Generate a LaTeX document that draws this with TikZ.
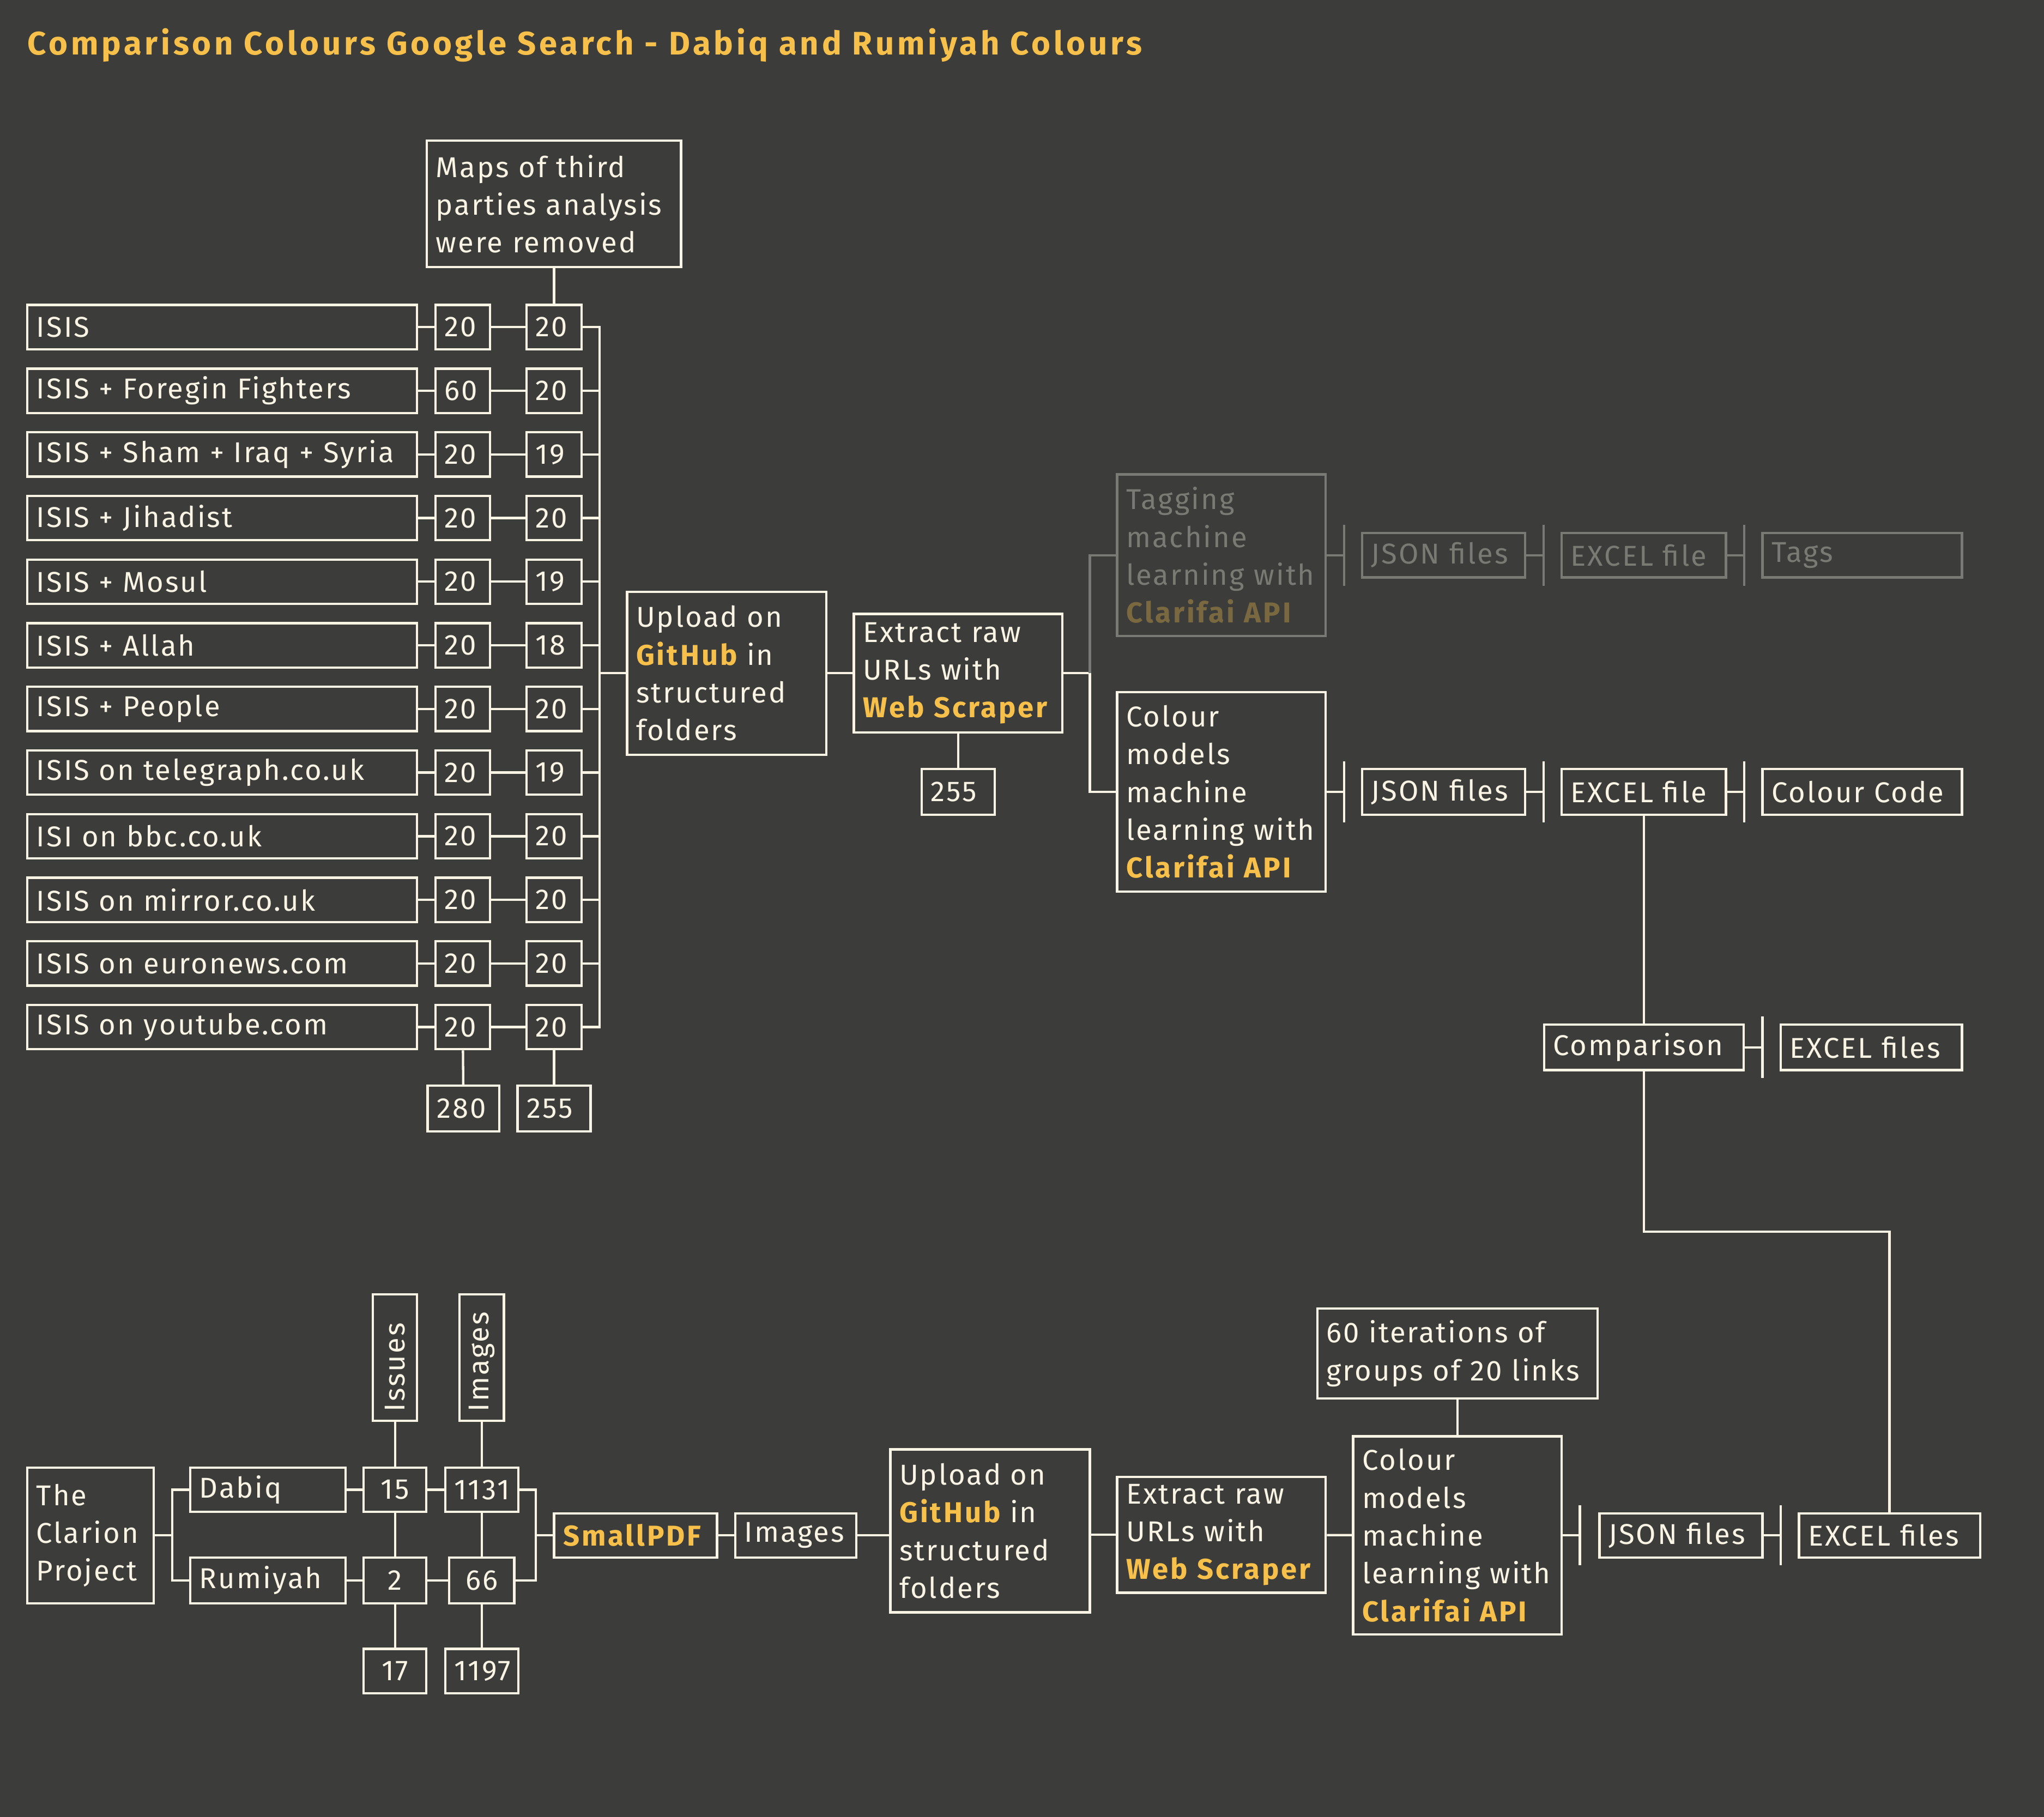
\documentclass[tikz,border=0pt]{standalone}
\usepackage{fontspec}
\setmainfont{Fira Sans}[LetterSpace=5.6,BoldFeatures={LetterSpace=7.5}]
\newfontfamily\titlefont{Fira Sans}[LetterSpace=9.6]
\definecolor{bg}{RGB}{60,60,58}
\definecolor{cream}{RGB}{250,244,228}
\definecolor{gold}{RGB}{247,192,74}
\definecolor{dim}{RGB}{122,122,116}
\definecolor{dimgold}{RGB}{122,104,64}
\newcommand{\hilite}[1]{{\bfseries\color{gold}#1}}
\newcommand{\hilitedim}[1]{{\bfseries\color{dimgold}#1}}
\begin{document}
\begin{tikzpicture}[x=1pt,y=-1pt,
	box/.style={draw=cream,line width=1.8pt,text=cream,inner xsep=7pt,inner ysep=0pt,align=left,font=\fontsize{22}{29}\selectfont},
	dimbox/.style={box,draw=dim,text=dim},
	link/.style={draw=cream,line width=1.8pt},
	dimlink/.style={link,draw=dim}]
	\fill[bg] (0,0) rectangle (1568,1394);
	\useasboundingbox (0,0) rectangle (1568,1394);
	
	\node[anchor=base west,inner sep=0,text=gold,font=\fontsize{25}{30}\selectfont\titlefont\bfseries] (title) at (21,42) {Comparison Colours Google Search - Dabiq and Rumiyah Colours};
	
	% google search
	\node[box,text width=181pt,minimum height=97pt] (maps) at (425,156.5) {Maps of third\\parties~analysis\\were removed};
	\coordinate (bus) at (460,516.5);
	\foreach \lab/\p/\q [count=\i] in {ISIS/20/20,ISIS + Foregin Fighters/60/20,ISIS + Sham + Iraq + Syria/20/19,ISIS + Jihadist/20/20,ISIS + Mosul/20/19,ISIS + Allah/20/18,ISIS + People/20/20,ISIS on telegraph.co.uk/20/19,ISI on bbc.co.uk/20/20,ISIS on mirror.co.uk/20/20,ISIS on euronews.com/20/20,ISIS on youtube.com/20/20}{
		\node[box,text width=285pt,minimum height=34pt] (r\i) at (170.5,{251+(\i-1)*48.82}) {\lab};
		\node[box,text width=28pt,minimum height=34pt] (a\i) at (355,{251+(\i-1)*48.82}) {\p};
		\node[box,text width=28pt,minimum height=34pt] (b\i) at (425,{251+(\i-1)*48.82}) {\q};
		\draw[link] (r\i) -- (a\i);
		\draw[link] (a\i) -- (b\i);
		\draw[link] (b\i.east) -| (bus);
	}
	\draw[link] (maps) -- (b1);
	\node[box,text width=41pt,minimum height=35pt] (tot1) at (355.5,850.5) {280};
	\node[box,text width=42pt,minimum height=35pt] (tot2) at (425,850.5) {255};
	\draw[link] (a12) -- (tot1);
	\draw[link] (b12) -- (tot2);
	
	\node[box,text width=139pt,minimum height=125pt] (up1) at (557.5,516.5) {Upload on\\\hilite{GitHub} in\\structured\\folders};
	\draw[link] (bus) -- (up1);
	\node[box,text width=146pt,minimum height=91pt] (ex1) at (735,516.5) {Extract raw\\URLs with\\\hilite{Web~Scraper}};
	\draw[link] (up1) -- (ex1);
	\node[box,text width=42pt,minimum height=35pt] (n255) at (735,607.5) {255};
	\draw[link] (ex1) -- (n255);
	
	\node[dimbox,text width=146pt,minimum height=124pt] (tag) at (937,426) {Tagging\\machine\\learning~with\\\hilitedim{Clarifai~API}};
	\node[dimbox,text width=111pt,minimum height=34pt] (json1) at (1107.5,426) {JSON files};
	\node[dimbox,text width=112pt,minimum height=34pt] (xls1) at (1261,426) {EXCEL file};
	\node[dimbox,text width=139pt,minimum height=34pt] (tags) at (1428.5,426) {Tags};
	
	\node[box,text width=146pt,minimum height=153pt] (cm1) at (937,607.5) {Colour\\models\\machine\\learning~with\\\hilite{Clarifai~API}};
	\node[box,text width=111pt,minimum height=35pt] (json2) at (1107.5,607.5) {JSON files};
	\node[box,text width=112pt,minimum height=35pt] (xls2) at (1261,607.5) {EXCEL file};
	\node[box,text width=139pt,minimum height=35pt] (code) at (1428.5,607.5) {Colour Code};
	
	\coordinate (split) at (836,516.5);
	\draw[link] (ex1) -- (split);
	\draw[dimlink] (split) |- (tag);
	\draw[link] (split) |- (cm1);
	
	\draw[dimlink] (tag) -- (1031,426);
	\draw[dimlink] (json1) -- (1184,426);
	\draw[dimlink] (xls1) -- (1338,426);
	\foreach \x in {1031,1184,1338}
		\draw[dimlink] (\x,402.5) -- (\x,449.5);
	\draw[link] (cm1) -- (1031,607.5);
	\draw[link] (json2) -- (1184,607.5);
	\draw[link] (xls2) -- (1338,607.5);
	\foreach \x in {1031,1184,1338}
		\draw[link] (\x,584) -- (\x,631);
	
	\node[box,text width=139pt,minimum height=35pt] (comp) at (1261,803.5) {Comparison};
	\node[box,text width=125pt,minimum height=35pt] (xls3) at (1435.5,803.5) {EXCEL files};
	\draw[link] (xls2) -- (comp);
	\draw[link] (comp) -- (1352,803.5);
	\draw[link] (1352,780) -- (1352,827);
	
	% dabiq and rumiyah
	\node[box,text width=83pt,minimum height=104pt] (clar) at (69.5,1178) {The\\Clarion\\Project};
	\node[box,text width=105pt,minimum height=34pt] (dab) at (205.5,1143) {Dabiq};
	\node[box,text width=105pt,minimum height=35pt] (rum) at (205.5,1212.5) {Rumiyah};
	\coordinate (cj) at (132,1178);
	\draw[link] (clar) -- (cj);
	\draw[link] (cj) |- (dab);
	\draw[link] (cj) |- (rum);
	
	\node[box,rotate=90,text width=83pt,minimum height=34pt] (iss) at (303,1041.5) {Issues};
	\node[box,rotate=90,text width=83pt,minimum height=34pt] (img) at (369.5,1041.5) {Images};
	\node[box,align=center,text width=34pt,minimum height=34pt] (i15) at (303,1143) {15};
	\node[box,align=center,text width=34pt,minimum height=35pt] (i2) at (303,1212.5) {2};
	\node[box,align=center,text width=34pt,minimum height=34pt] (i17) at (303,1282) {17};
	\node[box,align=center,text width=42pt,minimum height=34pt] (m1131) at (369.5,1143) {1131};
	\node[box,align=center,text width=36pt,minimum height=35pt] (m66) at (369.5,1212.5) {66};
	\node[box,align=center,text width=42pt,minimum height=34pt] (m1197) at (369.5,1282) {1197};
	\draw[link] (dab) -- (i15);
	\draw[link] (i15) -- (m1131);
	\draw[link] (rum) -- (i2);
	\draw[link] (i2) -- (m66);
	\draw[link] (iss) -- (i15);
	\draw[link] (i15) -- (i2);
	\draw[link] (i2) -- (i17);
	\draw[link] (img) -- (m1131);
	\draw[link] (m1131) -- (m66);
	\draw[link] (m66) -- (m1197);
	
	\coordinate (mj) at (411,1178);
	\draw[link] (m1131.east) -| (mj);
	\draw[link] (m66.east) -| (mj);
	\node[box,text width=111pt,minimum height=34pt] (spdf) at (487.5,1178) {\hilite{SmallPDF}};
	\node[box,text width=79pt,minimum height=34pt] (imgs) at (610.5,1178) {Images};
	\draw[link] (mj) -- (spdf);
	\draw[link] (spdf) -- (imgs);
	
	\node[box,text width=139pt,minimum height=125pt] (up2) at (759.5,1174.5) {Upload on\\\hilite{GitHub} in\\structured\\folders};
	\node[box,text width=146pt,minimum height=89pt] (ex2) at (937,1177.5) {Extract raw\\URLs with\\\hilite{Web~Scraper}};
	\node[box,text width=146pt,minimum height=152pt] (cm2) at (1118,1178) {Colour\\models\\machine\\learning~with\\\hilite{Clarifai~API}};
	\node[box,text width=201pt,minimum height=69pt] (iter) at (1118,1038.5) {60 iterations of\\groups~of~20~links};
	\draw[link] (imgs.east) -- (imgs.east -| up2.west);
	\draw[link] (up2.east |- ex2) -- (ex2);
	\draw[link] (ex2) -- (cm2);
	\draw[link] (iter) -- (cm2);
	
	\node[box,text width=111pt,minimum height=34pt] (json3) at (1289.5,1178) {JSON files};
	\node[box,text width=125pt,minimum height=34pt] (xls4) at (1449.5,1178) {EXCEL files};
	\draw[link] (cm2) -- (1212,1178);
	\draw[link] (json3) -- (1366,1178);
	\foreach \x in {1212,1366}
		\draw[link] (\x,1155) -- (\x,1201);
	
	\draw[link] (comp) -- (1261,945) -| (xls4);
\end{tikzpicture}
\end{document}
